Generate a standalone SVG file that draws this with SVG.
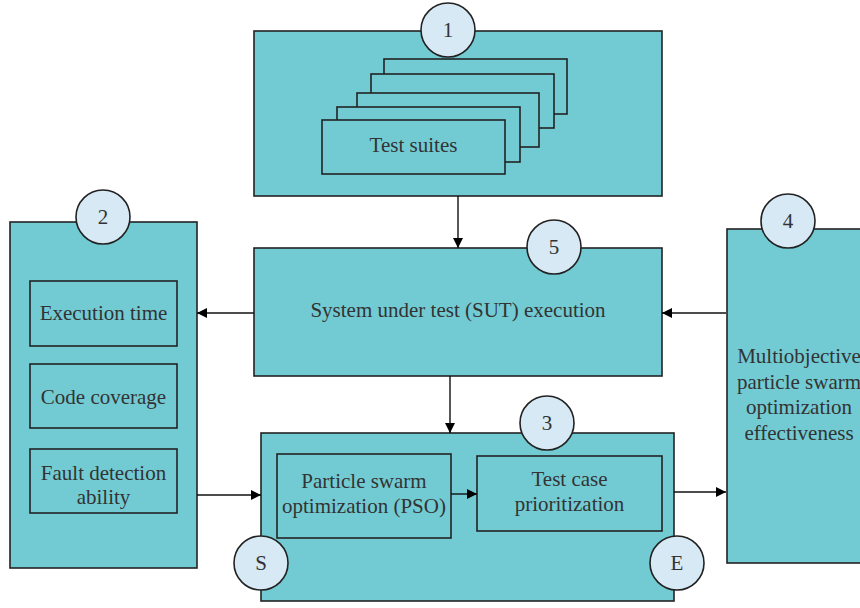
<svg xmlns="http://www.w3.org/2000/svg" width="860" height="608" viewBox="0 0 860 608">
<style>
.box{fill:#72CBD3;stroke:#222;stroke-width:1.6}
.num{fill:#D6E9F4;stroke:#222;stroke-width:1.6}
text{font-family:"Liberation Serif","DejaVu Serif",serif;font-size:21px;fill:#333;text-anchor:middle}
.conn{stroke:#111;stroke-width:1.4;fill:none}
</style>
<defs>
<marker id="ah" viewBox="0 0 10 10" refX="10" refY="5" markerWidth="10" markerHeight="10" markerUnits="userSpaceOnUse" orient="auto">
<path d="M0,0 L10,5 L0,10 Z" fill="#000"/>
</marker>
</defs>
<rect width="860" height="608" fill="#fff"/>

<g id="node1">
<rect class="box" x="254" y="31" width="408" height="165"/>
<rect class="box" x="384" y="59" width="183" height="55"/>
<rect class="box" x="371" y="74" width="183" height="54"/>
<rect class="box" x="357" y="93" width="182" height="54"/>
<rect class="box" x="337" y="107" width="183" height="55"/>
<rect class="box" x="322" y="120" width="183" height="54"/>
<text x="413.5" y="152">Test suites</text>
<circle class="num" cx="448" cy="30" r="27"/>
<text x="448" y="37">1</text>
</g>

<g id="node2">
<rect class="box" x="10" y="222" width="187" height="346"/>
<rect class="box" x="30" y="281" width="147" height="65"/>
<text x="103.5" y="320">Execution time</text>
<rect class="box" x="30" y="364" width="147" height="64"/>
<text x="103.5" y="404">Code coverage</text>
<rect class="box" x="30" y="449" width="147" height="64"/>
<text x="103.5" y="480">Fault detection</text>
<text x="103.5" y="504">ability</text>
<circle class="num" cx="103" cy="217" r="27"/>
<text x="103" y="224">2</text>
</g>

<g id="node5">
<rect class="box" x="254" y="248" width="408" height="128"/>
<text x="458" y="317">System under test (SUT) execution</text>
<circle class="num" cx="554" cy="247" r="27"/>
<text x="554" y="254">5</text>
</g>

<g id="node4">
<rect class="box" x="727" y="229" width="160" height="334"/>
<text x="799" y="363">Multiobjective</text>
<text x="799" y="389">particle swarm</text>
<text x="799" y="414">optimization</text>
<text x="799" y="440">effectiveness</text>
<circle class="num" cx="788" cy="221" r="27"/>
<text x="788" y="228">4</text>
</g>

<g id="node3">
<rect class="box" x="261" y="433" width="413" height="168"/>
<rect class="box" x="277" y="454" width="174" height="84"/>
<text x="364" y="488">Particle swarm</text>
<text x="364" y="513">optimization (PSO)</text>
<rect class="box" x="477" y="456" width="185" height="75"/>
<text x="569.5" y="486">Test case</text>
<text x="569.5" y="511">prioritization</text>
<circle class="num" cx="547" cy="423" r="27"/>
<text x="547" y="430">3</text>
<circle class="num" cx="261" cy="563" r="27"/>
<text x="261" y="570">S</text>
<circle class="num" cx="677" cy="563" r="27"/>
<text x="677" y="570">E</text>
</g>

<g id="connectors">
<line class="conn" x1="458" y1="196" x2="458" y2="248" marker-end="url(#ah)"/>
<line class="conn" x1="254" y1="313" x2="197" y2="313" marker-end="url(#ah)"/>
<line class="conn" x1="726" y1="313" x2="662" y2="313" marker-end="url(#ah)"/>
<line class="conn" x1="450" y1="376" x2="450" y2="433" marker-end="url(#ah)"/>
<line class="conn" x1="197" y1="495" x2="261" y2="495" marker-end="url(#ah)"/>
<line class="conn" x1="451" y1="494" x2="477" y2="494" marker-end="url(#ah)"/>
<line class="conn" x1="674" y1="492" x2="726" y2="492" marker-end="url(#ah)"/>
</g>
</svg>
